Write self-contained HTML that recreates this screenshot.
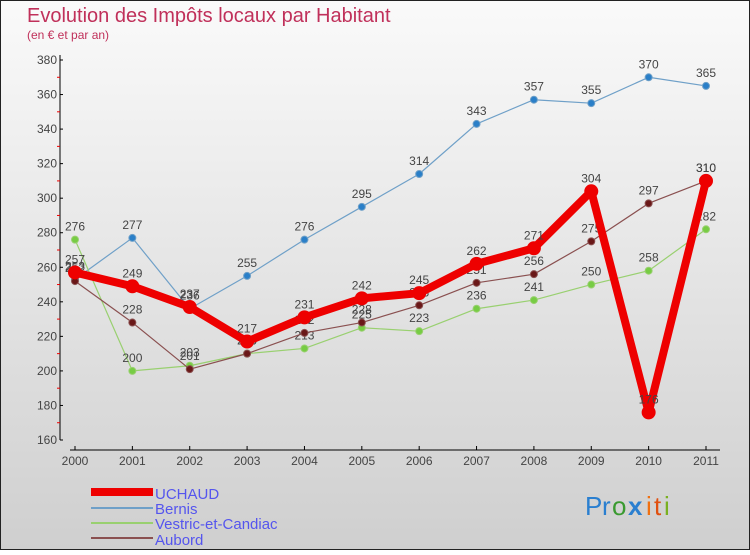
<!DOCTYPE html>
<html><head><meta charset="utf-8"><style>
html,body{margin:0;padding:0}
body{width:750px;height:550px;overflow:hidden;font-family:"Liberation Sans",sans-serif}
svg text{font-family:"Liberation Sans",sans-serif}
</style></head><body>
<svg id="c" width="750" height="550" xmlns="http://www.w3.org/2000/svg">
<defs><linearGradient id="bg" x1="0" y1="0" x2="0" y2="1"><stop offset="0" stop-color="#fafafa"/><stop offset="1" stop-color="#cfcfcf"/></linearGradient></defs>
<rect x="0.5" y="0.5" width="749" height="549" fill="url(#bg)" stroke="#222"/>
<text x="27" y="22" font-size="20" fill="#c0305a">Evolution des Impôts locaux par Habitant</text>
<text x="27" y="39" font-size="12" fill="#c0305a">(en € et par an)</text>
<g id="plot"></g>
<g>
<rect x="91" y="488" width="62" height="8" fill="#e00"/>
<text x="155" y="499" font-size="15" fill="#5555ee">UCHAUD</text>
<line x1="91" y1="508" x2="153" y2="508" stroke="#6fa0c8" stroke-width="2"/>
<text x="155" y="514" font-size="15" fill="#5555ee">Bernis</text>
<line x1="91" y1="523" x2="153" y2="523" stroke="#99d070" stroke-width="2"/>
<text x="155" y="529" font-size="15" fill="#5555ee">Vestric-et-Candiac</text>
<line x1="91" y1="538" x2="153" y2="538" stroke="#8a5050" stroke-width="2"/>
<text x="155" y="545" font-size="15" fill="#5555ee">Aubord</text>
</g>
<g font-size="26">
<text x="585" y="515" fill="#2a7fd0">P</text><text x="602" y="515" fill="#2a7fd0">r</text><text x="612" y="515" fill="#3a9a30">o</text><text x="628" y="515" fill="#2a7fd0" font-weight="bold">x</text><text x="646" y="515" fill="#f07010">i</text><text x="654" y="515" fill="#e05010">t</text><text x="664" y="515" fill="#7ab020">i</text>
</g>
</svg>
<script>
const years=["2000","2001","2002","2003","2004","2005","2006","2007","2008","2009","2010","2011"];
const uchaud=[257,249,237,217,231,242,245,262,271,304,176,310];
const bernis=[253,277,236,255,276,295,314,343,357,355,370,365];
const vestric=[276,200,203,210,213,225,223,236,241,250,258,282];
const aubord=[252,228,201,210,222,228,238,251,256,275,297,310];
const yTicks=[160,180,200,220,240,260,280,300,320,340,360,380];
const NS="http://www.w3.org/2000/svg";
const g=document.getElementById('plot');
const x=i=>75+i*(706-75)/(years.length-1);
const y=v=>440-(v-160)*(440-60)/(380-160);
function mk(t,a,p){const e=document.createElementNS(NS,t);for(const k in a)e.setAttribute(k,a[k]);(p||g).appendChild(e);return e;}
let ax=mk('line',{x1:60,y1:55,x2:60,y2:440,stroke:'#000'});


let bx=mk('line',{x1:70,y1:450,x2:720,y2:450,stroke:'#000'});


yTicks.forEach((v,i)=>{
 mk('line',{x1:60,y1:y(v),x2:63,y2:y(v),stroke:'#000'});
 if(i<yTicks.length-1){mk('line',{x1:57,y1:y(v+10),x2:60,y2:y(v+10),stroke:'#e00'});}
 const t=mk('text',{x:57,y:y(v)+4,'font-size':12,'text-anchor':'end',fill:'#444'});t.textContent=v;
 
 
});
years.forEach((yr,i)=>{
 mk('line',{x1:x(i),y1:446,x2:x(i),y2:450,stroke:'#000'});
 const t=mk('text',{x:x(i),y:465,'font-size':12,'text-anchor':'middle',fill:'#444'});t.textContent=yr;
 
 
});
function series(data,name,col,dot,w,r){
 const sg=mk('g',{});
 
 
 mk('polyline',{points:data.map((v,i)=>x(i)+','+y(v)).join(' '),fill:'none',stroke:col,'stroke-width':w,'stroke-linejoin':'round'},sg);
 data.forEach((v,i)=>{
  const c=mk('circle',{cx:x(i),cy:y(v),r:r,fill:dot,stroke:col,'stroke-width':1},sg);
  
  
  const t=mk('text',{x:x(i),y:y(v)-9,'font-size':12,'text-anchor':'middle',fill:'#444'},sg);t.textContent=v;
  
  
 });
}
series(bernis,'bernis','#6fa0c8','#2a7fc8',1.2,3.5);
series(vestric,'vestric','#99d070','#77cc44',1.2,3.5);
series(aubord,'aubord','#8a5050','#6a1818',1.2,3.5);
series(uchaud,'uchaud','#e00','#e00',8,6.5);
</script>
</body></html>
